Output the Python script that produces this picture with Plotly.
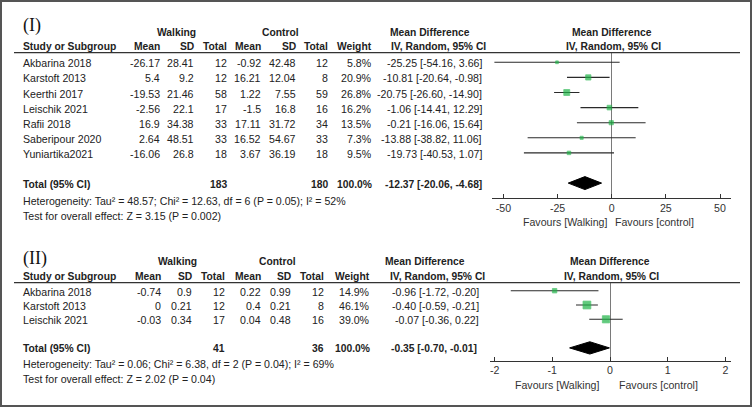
import math
import plotly.graph_objects as go

W, H = 752, 407

# ---------------- Panel I data ----------------
studies1 = ["Akbarina 2018", "Karstoft 2013", "Keerthi 2017", "Leischik 2021",
            "Rafii 2018", "Saberipour 2020", "Yuniartika2021"]
walk_mean1 = [-26.17, 5.4, -19.53, -2.56, 16.9, 2.64, -16.06]
walk_sd1 = [28.41, 9.2, 21.46, 22.1, 34.38, 48.51, 26.8]
walk_n1 = [12, 12, 58, 17, 33, 33, 18]
ctrl_mean1 = [-0.92, 16.21, 1.22, -1.5, 17.11, 16.52, 3.67]
ctrl_sd1 = [42.48, 12.04, 7.55, 16.8, 31.72, 54.67, 36.19]
ctrl_n1 = [12, 8, 59, 16, 34, 33, 18]
weight1 = [5.8, 20.9, 26.8, 16.2, 13.5, 7.3, 9.5]
md1 = [-25.25, -10.81, -20.75, -1.06, -0.21, -13.88, -19.73]
lo1 = [-54.16, -20.64, -26.60, -14.41, -16.06, -38.82, -40.53]
hi1 = [3.66, -0.98, -14.90, 12.29, 15.64, 11.06, 1.07]
total1 = [-12.37, -20.06, -4.68]          # md, lo, hi
total_n1 = [183, 180]
het1 = "Heterogeneity: Tau² = 48.57; Chi² = 12.63, df = 6 (P = 0.05); I² = 52%"
test1 = "Test for overall effect: Z = 3.15 (P = 0.002)"
ticks1 = [-50, -25, 0, 25, 50]

# ---------------- Panel II data ----------------
studies2 = ["Akbarina 2018", "Karstoft 2013", "Leischik 2021"]
walk_mean2 = [-0.74, 0, -0.03]
walk_sd2 = [0.9, 0.21, 0.34]
walk_n2 = [12, 12, 17]
ctrl_mean2 = [0.22, 0.4, 0.04]
ctrl_sd2 = [0.99, 0.21, 0.48]
ctrl_n2 = [12, 8, 16]
weight2 = [14.9, 46.1, 39.0]
md2 = [-0.96, -0.40, -0.07]
lo2 = [-1.72, -0.59, -0.36]
hi2 = [-0.20, -0.21, 0.22]
total2 = [-0.35, -0.70, -0.01]
total_n2 = [41, 36]
het2 = "Heterogeneity: Tau² = 0.06; Chi² = 6.38, df = 2 (P = 0.04); I² = 69%"
test2 = "Test for overall effect: Z = 2.02 (P = 0.04)"
ticks2 = [-2, -1, 0, 1, 2]

SANS = "Liberation Sans, Arial, sans-serif"
SERIF = "Liberation Serif, Times New Roman, serif"
FS = 10.6      # regular text
FSB = 10.3     # bold text
TXT = "#222222"
GREEN = "#1fb447"

fig = go.Figure()
annotations = []
shapes = []


def px(x):
    return x / W


def py(y):
    return 1 - y / H


def num(v):
    return f"{v:g}"


def ci(m, l, h):
    return f"{m:.2f} [{l:.2f}, {h:.2f}]"


def ann(text, x, y, xanchor="left", yref="paper", bold=False, size=None,
        family=SANS, yshift=0, color=TXT):
    if size is None:
        size = FSB if bold else FS
    if bold:
        text = f"<b>{text}</b>"
    annotations.append(dict(
        text=text, x=px(x), y=(py(y) if yref == "paper" else y),
        xref="paper", yref=yref, xanchor=xanchor, yanchor="middle",
        showarrow=False, font=dict(family=family, size=size, color=color),
        yshift=yshift, borderpad=0))


def panel(P):
    n = len(P["studies"])
    rows = list(range(n))
    trow = n + 1
    yref = P["yref"]
    cols = P["cols"]   # right edges: wm, wsd, wn, cm, csd, cn, weight, ci

    ann(P["label"], 22, P["label_y"], family=SERIF, size=18, color="#111")
    ann("Walking", P["walk_x"], P["grp_y"], xanchor="center", bold=True)
    ann("Control", P["ctrl_x"], P["grp_y"], xanchor="center", bold=True)
    ann("Mean Difference", P["mdtab_x"], P["grp_y"], bold=True)
    ann("Mean Difference", P["mdplot_x"], P["grp_y"], xanchor="center", bold=True)
    ann("Study or Subgroup", 22, P["hdr_y"], bold=True)
    for t, c in zip(["Mean", "SD", "Total", "Mean", "SD", "Total", "Weight"], cols[:7]):
        ann(t, c, P["hdr_y"], xanchor="right", bold=True)
    ann("IV, Random, 95% CI", P["ivtab_x"], P["hdr_y"], xanchor="right", bold=True)
    ann("IV, Random, 95% CI", P["ivplot_x"], P["hdr_y"], xanchor="center", bold=True)

    for i in rows:
        vals = [num(P["wm"][i]), num(P["wsd"][i]), str(P["wn"][i]),
                num(P["cm"][i]), num(P["csd"][i]), str(P["cn"][i]),
                f"{P['w'][i]:.1f}%", ci(P["md"][i], P["lo"][i], P["hi"][i])]
        ann(P["studies"][i], 22, i, yref=yref, yshift=-1)
        for v, c in zip(vals, cols):
            ann(v, c, i, xanchor="right", yref=yref, yshift=-1)

    tm, tl, th = P["total"]
    ann("Total (95% CI)", 22, trow, yref=yref, bold=True, yshift=-1)
    ann(str(P["tn"][0]), cols[2], trow, xanchor="right", yref=yref, bold=True, yshift=-1)
    ann(str(P["tn"][1]), cols[5], trow, xanchor="right", yref=yref, bold=True, yshift=-1)
    ann("100.0%", cols[6], trow, xanchor="right", yref=yref, bold=True, yshift=-1)
    ann(ci(tm, tl, th), P["tci_x"], trow, xanchor="right", yref=yref, bold=True, yshift=-1)

    ann(P["het"], 22, P["het_y"])
    ann(P["test"], 22, P["test_y"])
    ann("Favours [Walking]", P["fav_w"], P["fav_y"], xanchor="center", color="#333")
    ann("Favours [control]", P["fav_c"], P["fav_y"], xanchor="center", color="#333")

    shapes.append(dict(type="line", xref="paper", yref=yref + " domain",
                       x0=px(14), x1=px(740), y0=1, y1=1,
                       line=dict(color="#333", width=1.3)))

    xa = P["xa"]
    fig.add_trace(go.Scatter(
        x=P["md"], y=rows, mode="markers", xaxis=xa, yaxis=yref,
        marker=dict(symbol="square", color=GREEN,
                    size=[1.15 * math.sqrt(w) for w in P["w"]],
                    line=dict(width=0.8, color=GREEN)),
        error_x=dict(type="data", symmetric=False,
                     array=[h - m for h, m in zip(P["hi"], P["md"])],
                     arrayminus=[m - l for m, l in zip(P["md"], P["lo"])],
                     width=0, thickness=1.1, color="#2a2a2a"),
        showlegend=False, hoverinfo="skip"))
    hh = 0.43
    fig.add_trace(go.Scatter(
        x=[tl, tm, th, tm, tl], y=[trow, trow - hh, trow, trow + hh, trow],
        mode="lines", fill="toself", fillcolor="black",
        line=dict(color="black", width=1), xaxis=xa, yaxis=yref,
        showlegend=False, hoverinfo="skip"))


P1 = dict(label="(I)", label_y=25, studies=studies1, wm=walk_mean1, wsd=walk_sd1,
          wn=walk_n1, cm=ctrl_mean1, csd=ctrl_sd1, cn=ctrl_n1, w=weight1, md=md1,
          lo=lo1, hi=hi1, total=total1, tn=total_n1, het=het1, test=test1,
          yref="y", xa="x", grp_y=32.3, hdr_y=46.7, walk_x=176, ctrl_x=280,
          mdtab_x=389, mdplot_x=611.7, ivtab_x=487, ivplot_x=613,
          cols=[161, 195, 228.3, 262.3, 296.7, 329.3, 372.7, 483.3], tci_x=482.5,
          het_y=201, test_y=215.5, fav_w=565, fav_c=654, fav_y=222.3)
P2 = dict(label="(II)", label_y=258.5, studies=studies2, wm=walk_mean2, wsd=walk_sd2,
          wn=walk_n2, cm=ctrl_mean2, csd=ctrl_sd2, cn=ctrl_n2, w=weight2, md=md2,
          lo=lo2, hi=hi2, total=total2, tn=total_n2, het=het2, test=test2,
          yref="y2", xa="x2", grp_y=261.7, hdr_y=276, walk_x=177, ctrl_x=277,
          mdtab_x=384, mdplot_x=609.5, ivtab_x=486, ivplot_x=611.7,
          cols=[162.3, 192.7, 226, 261.7, 292, 325, 370.7, 480], tci_x=478.5,
          het_y=364, test_y=379, fav_w=557, fav_c=658, fav_y=385)

panel(P1)
panel(P2)

shapes.append(dict(type="rect", xref="paper", yref="paper",
                   x0=px(1), x1=px(751), y0=py(406), y1=py(1),
                   line=dict(color="#555", width=2)))


def xaxis_cfg(domain, rng, ticks, anchor, main=True, overlay=None):
    d = dict(domain=domain, range=rng, anchor=anchor, fixedrange=True,
             tickvals=ticks, ticktext=[str(t) for t in ticks],
             ticklen=4, tickwidth=1, tickcolor="#333", showgrid=False,
             tickfont=dict(family=SANS, size=FS, color="#333"))
    if main:
        d.update(ticks="inside", showline=True, linecolor="#333", linewidth=1,
                 zeroline=True, zerolinecolor="#7a7a7a", zerolinewidth=1.2)
    else:
        d.update(ticks="outside", showticklabels=False, showline=False,
                 zeroline=False, overlaying=overlay)
    return d


def yaxis_cfg(domain, rng):
    return dict(domain=domain, range=rng, showgrid=False, zeroline=False,
                showticklabels=False, showline=False, ticks="", fixedrange=True)


dom_x1 = [px(492), px(730.7)]
rng_x1 = [(492 - 611.7) / 2.166, (730.7 - 611.7) / 2.166]
dom_x2 = [px(490), px(730.7)]
rng_x2 = [(490 - 610) / 57.7, (730.7 - 610) / 57.7]

fig.update_layout(
    width=W, height=H, margin=dict(l=0, r=0, t=0, b=0),
    paper_bgcolor="white", plot_bgcolor="rgba(0,0,0,0)",
    xaxis=xaxis_cfg(dom_x1, rng_x1, ticks1, "y"),
    xaxis2=xaxis_cfg(dom_x2, rng_x2, ticks2, "y2"),
    xaxis3=xaxis_cfg(dom_x1, rng_x1, ticks1, "y", main=False, overlay="x"),
    xaxis4=xaxis_cfg(dom_x2, rng_x2, ticks2, "y2", main=False, overlay="x2"),
    yaxis=yaxis_cfg([py(198.3), py(52.7)], [9.007, -0.636]),
    yaxis2=yaxis_cfg([py(360.7), py(282.7)], [4.895, -0.56]),
    annotations=annotations, shapes=shapes, showlegend=False,
)

fig.write_html(
    "out.html",
    config={"displayModeBar": False},
    post_script="document.body.style.margin='0';document.body.style.overflow='hidden';",
)
